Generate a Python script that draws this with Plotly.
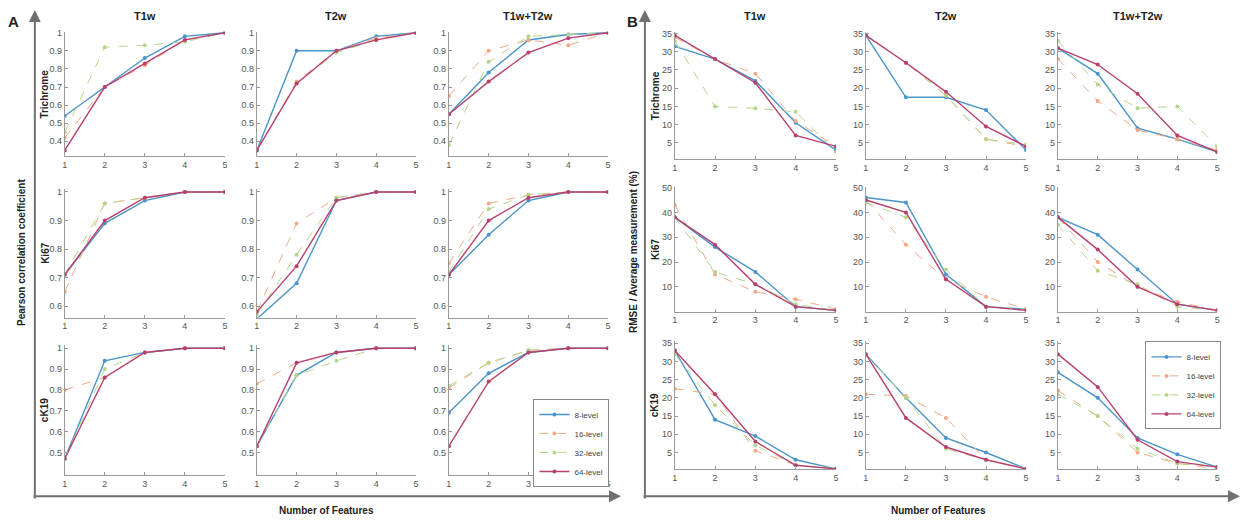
import plotly.graph_objects as go

features = [1, 2, 3, 4, 5]
levels = ["8-level", "16-level", "32-level", "64-level"]
stains = ["Trichrome", "Ki67", "cK19"]
sequences = ["T1w", "T2w", "T1w+T2w"]

# Panel A: Pearson correlation coefficient; each list = [8-level, 16-level, 32-level, 64-level]
pcc_trichrome_t1w = [[0.54, 0.70, 0.86, 0.98, 1.0], [0.42, 0.70, 0.82, 0.96, 1.0],
                     [0.45, 0.92, 0.93, 0.95, 1.0], [0.35, 0.70, 0.83, 0.96, 1.0]]
pcc_trichrome_t2w = [[0.35, 0.90, 0.90, 0.98, 1.0], [0.35, 0.73, 0.90, 0.97, 1.0],
                     [0.35, 0.72, 0.89, 0.96, 1.0], [0.35, 0.72, 0.90, 0.96, 1.0]]
pcc_trichrome_t12 = [[0.55, 0.78, 0.96, 0.99, 1.0], [0.65, 0.90, 0.96, 0.93, 1.0],
                     [0.38, 0.84, 0.98, 0.99, 1.0], [0.55, 0.73, 0.89, 0.97, 1.0]]
pcc_ki67_t1w = [[0.71, 0.89, 0.97, 1.0, 1.0], [0.65, 0.96, 0.98, 1.0, 1.0],
                [0.71, 0.96, 0.98, 1.0, 1.0], [0.71, 0.90, 0.98, 1.0, 1.0]]
pcc_ki67_t2w = [[0.555, 0.68, 0.97, 1.0, 1.0], [0.58, 0.89, 0.98, 1.0, 1.0],
                [0.57, 0.78, 0.98, 1.0, 1.0], [0.58, 0.74, 0.97, 1.0, 1.0]]
pcc_ki67_t12 = [[0.71, 0.85, 0.97, 1.0, 1.0], [0.75, 0.96, 0.99, 1.0, 1.0],
                [0.72, 0.94, 0.99, 1.0, 1.0], [0.71, 0.90, 0.98, 1.0, 1.0]]
pcc_ck19_t1w = [[0.47, 0.94, 0.98, 1.0, 1.0], [0.80, 0.86, 0.98, 1.0, 1.0],
                [0.47, 0.90, 0.98, 1.0, 1.0], [0.47, 0.86, 0.98, 1.0, 1.0]]
pcc_ck19_t2w = [[0.53, 0.87, 0.98, 1.0, 1.0], [0.83, 0.93, 0.98, 1.0, 1.0],
                [0.53, 0.87, 0.94, 1.0, 1.0], [0.53, 0.93, 0.98, 1.0, 1.0]]
pcc_ck19_t12 = [[0.69, 0.88, 0.98, 1.0, 1.0], [0.81, 0.93, 0.99, 1.0, 1.0],
                [0.82, 0.93, 0.99, 1.0, 1.0], [0.53, 0.84, 0.98, 1.0, 1.0]]

# Panel B: RMSE / average measurement (%)
rmse_trichrome_t1w = [[31.5, 28, 22, 10.5, 3], [34, 28, 24, 11, 4],
                      [33, 15, 14.5, 13.5, 2.5], [34.5, 28, 21.5, 7, 4]]
rmse_trichrome_t2w = [[34.5, 17.5, 17.5, 14, 3], [34.5, 27, 18, 6, 4],
                      [34.5, 27, 18, 6, 4.5], [34.5, 27, 19, 9.5, 4]]
rmse_trichrome_t12 = [[31, 24, 9, 6, 2.5], [28, 16.5, 8.5, 6, 3],
                      [33, 21, 14.5, 15, 4], [31, 26.5, 18.5, 7, 2.5]]
rmse_ki67_t1w = [[38, 26, 16, 2, 0.5], [43, 15, 8, 5, 1],
                 [38, 16, 11, 3, 0.5], [38, 27, 11, 2, 0.5]]
rmse_ki67_t2w = [[46, 44, 15, 2, 1], [45, 27, 13, 6, 1],
                 [44, 38, 17, 2, 1], [45, 40, 13, 2, 0.5]]
rmse_ki67_t12 = [[38, 31, 17, 3, 0.5], [38, 20, 10, 4, 0.5],
                 [35, 16.5, 11, 2, 0.5], [38, 25, 10, 3, 0.5]]
rmse_ck19_t1w = [[33, 14, 9.5, 3, 0.5], [22.5, 21, 5.5, 1.5, 0.5],
                 [32, 18, 7, 1.5, 0.5], [33, 21, 8, 1.5, 0.5]]
rmse_ck19_t2w = [[32, 20, 9, 5, 0.5], [21, 20.5, 14.5, 3, 0.5],
                 [32, 20, 6, 3, 0.5], [32, 14.5, 6.5, 3, 0.5]]
rmse_ck19_t12 = [[27, 20, 9, 4.5, 1], [22, 15, 5, 2, 0.5],
                 [21, 15, 6, 2, 1], [32, 23, 8.5, 2.5, 1]]

panel_a = [[pcc_trichrome_t1w, pcc_trichrome_t2w, pcc_trichrome_t12],
           [pcc_ki67_t1w, pcc_ki67_t2w, pcc_ki67_t12],
           [pcc_ck19_t1w, pcc_ck19_t2w, pcc_ck19_t12]]
panel_b = [[rmse_trichrome_t1w, rmse_trichrome_t2w, rmse_trichrome_t12],
           [rmse_ki67_t1w, rmse_ki67_t2w, rmse_ki67_t12],
           [rmse_ck19_t1w, rmse_ck19_t2w, rmse_ck19_t12]]

pcc_ticks = [[0.4, 0.5, 0.6, 0.7, 0.8, 0.9, 1], [0.6, 0.7, 0.8, 0.9, 1], [0.5, 0.6, 0.7, 0.8, 0.9, 1]]
rmse_ticks = [[5, 10, 15, 20, 25, 30, 35], [10, 20, 30, 40, 50], [5, 10, 15, 20, 25, 30, 35]]

# ---- styling / layout ----
W, H = 1249, 521
colors = ["#4a94cc", "#f2a884", "#b5d68a", "#b8406e"]
dashes = ["solid", "dash", "dash", "solid"]
widths = [1.4, 1.0, 1.0, 1.4]

cols_a = [(62, 223), (255, 415), (448, 608)]
cols_b = [(675, 837), (867, 1028), (1060, 1220)]
rows_a = [(28, 153), (186, 316), (344, 475)]
rows_b = [(28, 156), (184, 310), (340, 469)]
ranges_a = [[0.32, 1.005], [0.56, 1.012], [0.39, 1.014]]
ranges_b = [[0.6, 35.5], [0, 50.4], [0.36, 35.5]]


def px(x):
    return x / W


def py(y):
    return 1 - y / H


def fmt(v):
    return "%g" % v


fig = go.Figure()
layout = {}
n = 0
axis_style = dict(showline=True, linecolor="#9a9a9a", linewidth=1, ticks="inside", ticklen=3,
                  tickcolor="#9a9a9a", showgrid=False, zeroline=False,
                  tickfont=dict(size=9, color="#555555", family="Liberation Sans"))

for panel, data, cols, rows, ranges, ticks, lg in [
        ("A", panel_a, cols_a, rows_a, ranges_a, pcc_ticks, "legend"),
        ("B", panel_b, cols_b, rows_b, ranges_b, rmse_ticks, "legend2")]:
    for r in range(3):
        for c in range(3):
            n += 1
            xa = "x" if n == 1 else "x%d" % n
            ya = "y" if n == 1 else "y%d" % n
            layout["xaxis" if n == 1 else "xaxis%d" % n] = dict(
                axis_style, domain=[px(cols[c][0]), px(cols[c][1])], range=[1, 5],
                tickvals=features, anchor=ya)
            layout["yaxis" if n == 1 else "yaxis%d" % n] = dict(
                axis_style, domain=[py(rows[r][1]), py(rows[r][0])], range=ranges[r],
                tickvals=ticks[r], ticktext=[fmt(t) for t in ticks[r]], anchor=xa)
            for k in range(4):
                fig.add_trace(go.Scatter(
                    x=features, y=data[r][c][k], mode="lines+markers", name=levels[k],
                    line=dict(color=colors[k], width=widths[k], dash=dashes[k]),
                    marker=dict(size=4, color=colors[k]),
                    xaxis=xa, yaxis=ya, legend=lg,
                    showlegend=(r == 2 and c == 2)))

ann = []
dark = "#222222"
fam = "Liberation Sans"


def text_ann(x, y, text, size=10, angle=0):
    return dict(x=px(x), y=py(y), xref="paper", yref="paper", text=text, textangle=angle,
                showarrow=False, xanchor="center", yanchor="middle",
                font=dict(size=size, color=dark, family=fam))


for cols in (cols_a, cols_b):
    for c in range(3):
        ann.append(text_ann((cols[c][0] + cols[c][1]) / 2, 12, "<b>%s</b>" % sequences[c], size=11))
for xl, rows in ((42, rows_a), (655, rows_b)):
    for r in range(3):
        ann.append(text_ann(xl, (rows[r][0] + rows[r][1]) / 2, "<b>%s</b>" % stains[r], angle=-90))
ann.append(text_ann(18, 250, "<b>Pearson correlation coefficient</b>", angle=-90))
ann.append(text_ann(633, 250, "<b>RMSE / Average measurement (%)</b>", angle=-90))
for xc in (325, 940):
    ann.append(text_ann(xc, 510, "<b>Number of Features</b>"))
ann.append(text_ann(11, 18, "<b>A</b>", size=15))
ann.append(text_ann(633, 18, "<b>B</b>", size=15))
# frame arrows
for x0, x1 in ((32, 621), (645, 1243)):
    ann.append(dict(x=px(x0), y=py(6), ax=0, ay=490, xref="paper", yref="paper", text="",
                    showarrow=True, arrowhead=2, arrowsize=1.2, arrowwidth=2, arrowcolor="#707070"))
    ann.append(dict(x=px(x1), y=py(496), ax=-(x1 - x0), ay=0, xref="paper", yref="paper", text="",
                    showarrow=True, arrowhead=2, arrowsize=1.2, arrowwidth=2, arrowcolor="#707070"))

legend_style = dict(bgcolor="white", bordercolor="#8a8a8a", borderwidth=1,
                    font=dict(size=8, color="#444444", family=fam),
                    xanchor="left", yanchor="top", tracegroupgap=0, itemwidth=30)

fig.update_layout(**layout)
fig.update_layout(
    width=W, height=H, margin=dict(l=0, r=0, t=0, b=0),
    paper_bgcolor="white", plot_bgcolor="white",
    annotations=ann,
    legend=dict(legend_style, x=px(533), y=py(398)),
    legend2=dict(legend_style, x=px(1148), y=py(340)),
)
fig.write_html("out.html", config={"displayModeBar": False},
               post_script="document.body.style.margin='0';document.body.style.overflow='hidden';")
